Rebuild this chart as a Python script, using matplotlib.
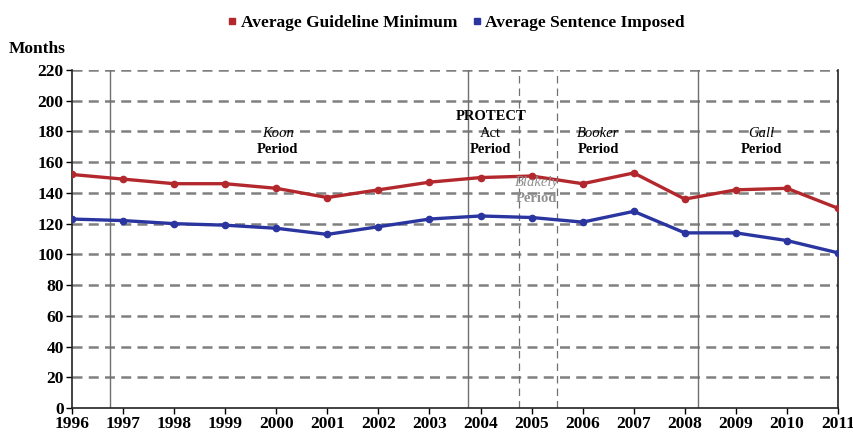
import matplotlib
matplotlib.use("Agg")
import matplotlib.pyplot as plt
from matplotlib.lines import Line2D

years = list(range(1996, 2012))
guideline_min = [152, 149, 146, 146, 143, 137, 142, 147, 150, 151, 146, 153, 136, 142, 143, 130]
sentence_imposed = [123, 122, 120, 119, 117, 113, 118, 123, 125, 124, 121, 128, 114, 114, 109, 101]
y_ticks = list(range(0, 221, 20))

solid_periods = [1996.75, 2003.75, 2008.25]
dashed_periods = [2004.75, 2005.5]

plt.rcParams['font.family'] = ['Liberation Serif', 'DejaVu Serif']

fig = plt.figure(figsize=(8.54, 4.36), dpi=100)
ax = fig.add_axes([0.0843, 0.0642, 0.8970, 0.7752])

red = '#B3282D'
blue = '#2B35A0'

for yv in y_ticks[1:]:
    ax.axhline(yv, color='#808080', lw=1.8, ls=(0, (4, 2.5)), zorder=1)

for xv in solid_periods:
    ax.axvline(xv, color='#707070', lw=1.0, zorder=1)
for xv in dashed_periods:
    ax.axvline(xv, color='#707070', lw=0.9, ls=(0, (6, 4)), zorder=1)

ax.plot(years, guideline_min, color=red, lw=2.4, marker='o', ms=4.5, zorder=3)
ax.plot(years, sentence_imposed, color=blue, lw=2.4, marker='o', ms=4.5, zorder=3)

ax.set_xlim(1996, 2011)
ax.set_ylim(0, 220)
ax.set_xticks(years)
ax.set_yticks(y_ticks)
ax.tick_params(axis='both', direction='out', length=4, width=1, labelsize=12.5, pad=2)
for lab in ax.get_xticklabels() + ax.get_yticklabels():
    lab.set_fontweight('bold')
ax.spines['top'].set_visible(False)
for s in ['left', 'bottom', 'right']:
    ax.spines[s].set_linewidth(1.2)
    ax.spines[s].set_color('#222222')

txt = dict(ha='center', va='center', fontsize=10.5, zorder=4)
ax.text(2000.03, 178.5, 'Koon', style='italic', **txt)
ax.text(2000.03, 168, 'Period', fontweight='bold', **txt)
ax.text(2004.2, 189.5, 'PROTECT', fontweight='bold', **txt)
ax.text(2004.2, 179, 'Act', **txt)
ax.text(2004.2, 168, 'Period', fontweight='bold', **txt)
ax.text(2006.3, 178.5, 'Booker', style='italic', **txt)
ax.text(2006.3, 168, 'Period', fontweight='bold', **txt)
ax.text(2009.5, 178.5, 'Gall', style='italic', **txt)
ax.text(2009.5, 168, 'Period', fontweight='bold', **txt)
ax.text(2005.1, 146.5, 'Blakely', style='italic', color='#909090', **txt)
ax.text(2005.1, 136.5, 'Period', fontweight='bold', color='#909090', **txt)

fig.text(0.01, 0.888, 'Months', fontsize=12.5, fontweight='bold', ha='left', va='center')

handles = [Line2D([], [], color=red, marker='s', ls='', ms=4),
           Line2D([], [], color=blue, marker='s', ls='', ms=4)]
fig.legend(handles, ['Average Guideline Minimum', 'Average Sentence Imposed'],
           loc='center', bbox_to_anchor=(0.534, 0.948), ncol=2, frameon=False,
           prop={'weight': 'bold', 'size': 12.5}, handlelength=0.6,
           handletextpad=0.2, columnspacing=0.8)

fig.savefig('out.png', dpi=100)
